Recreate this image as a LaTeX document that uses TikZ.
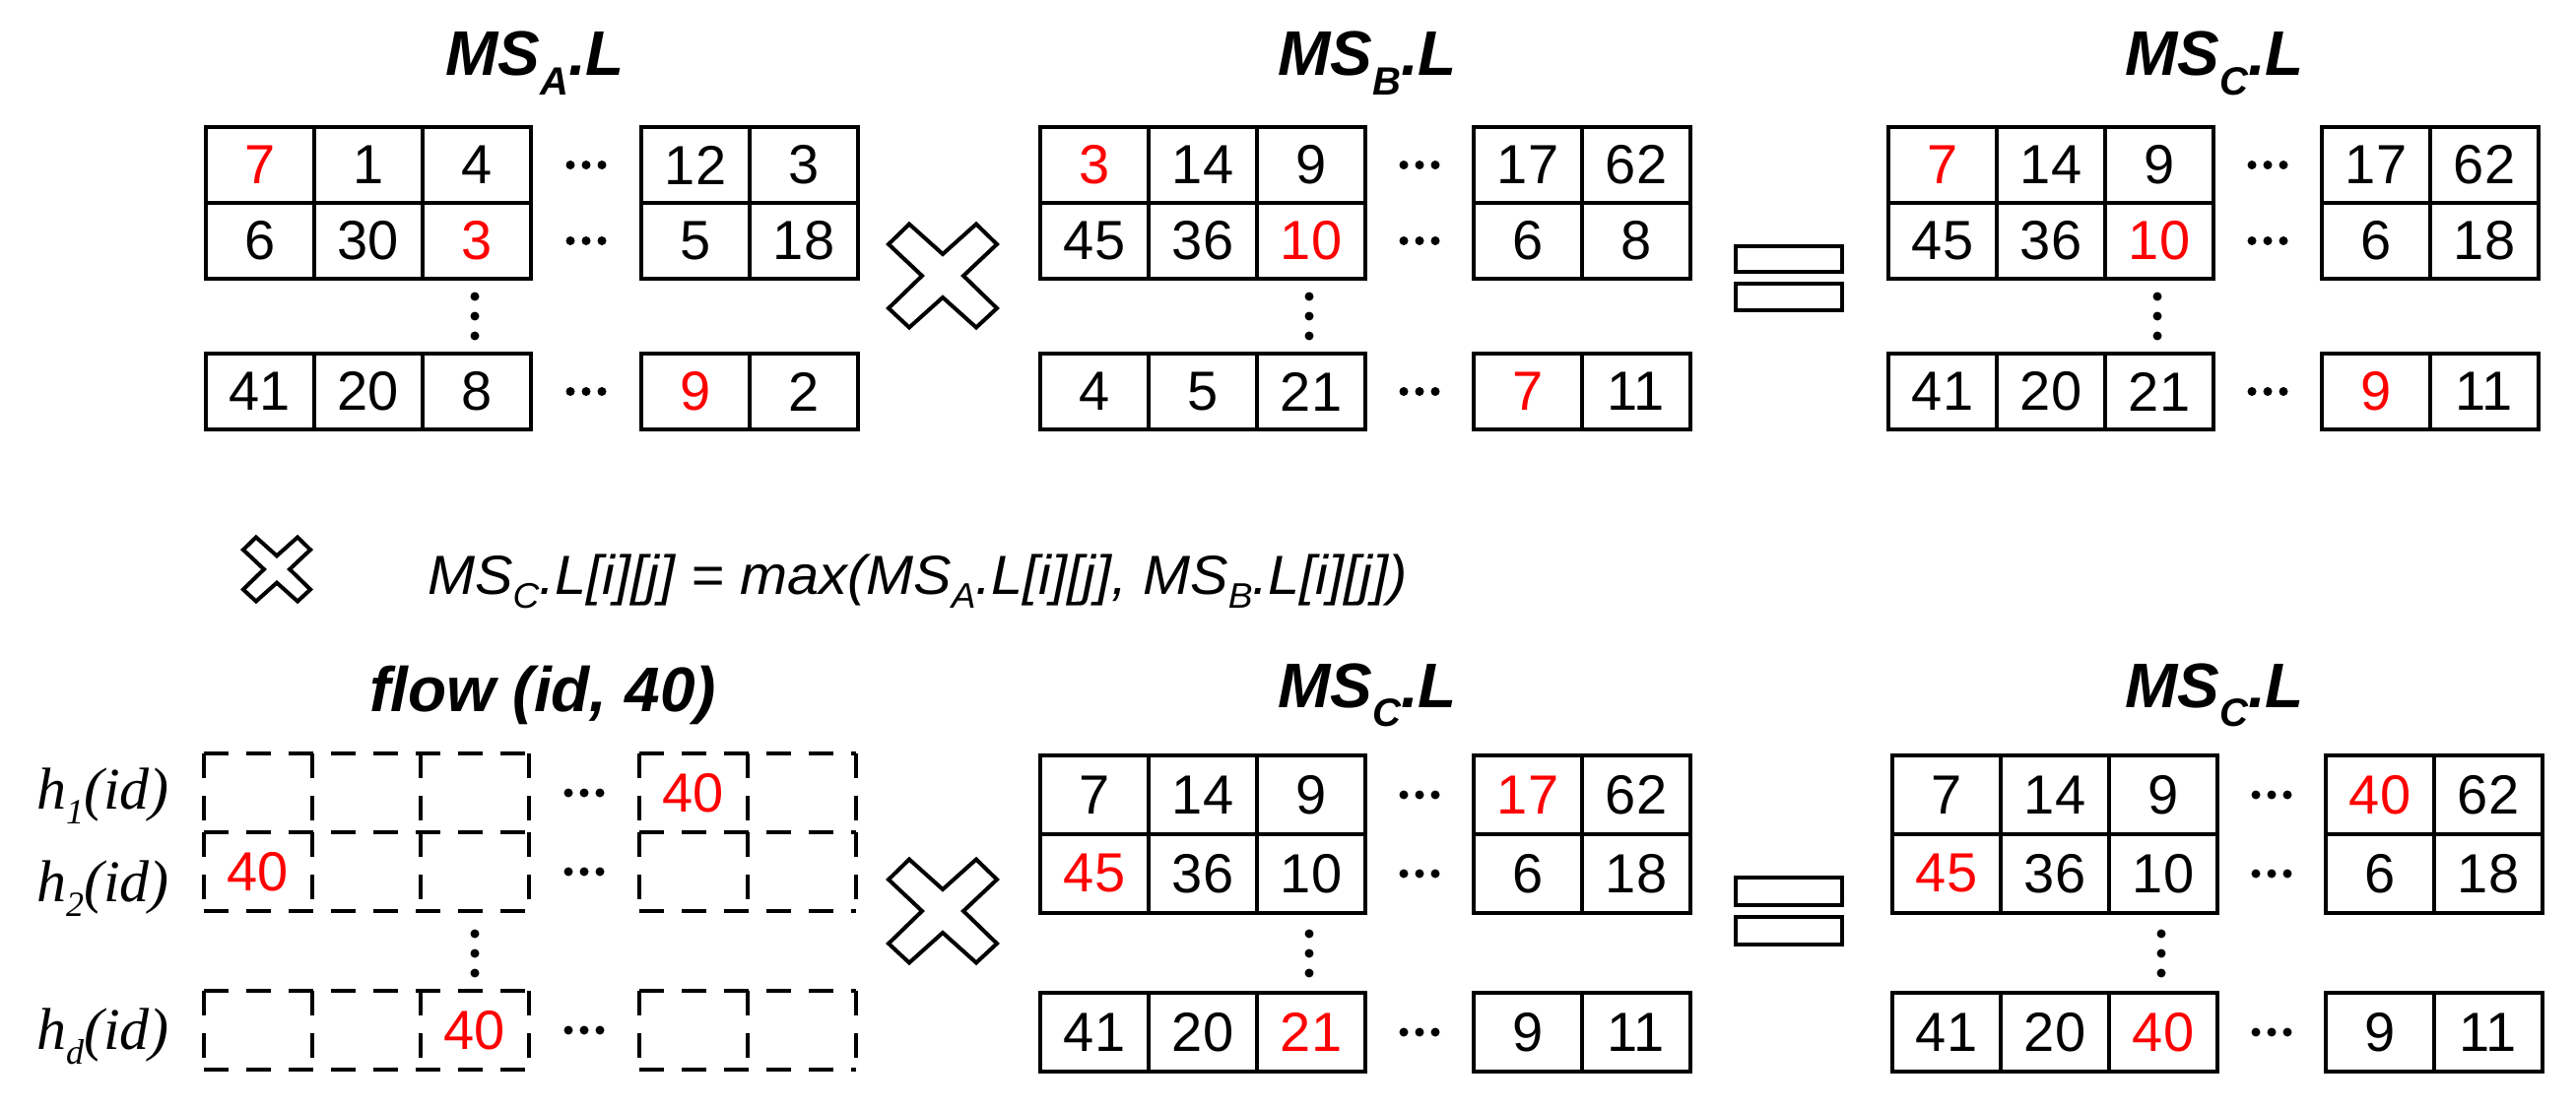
\documentclass[tikz,border=0pt]{standalone}
\usepackage{fontspec}
\setmainfont{Liberation Sans}
\newfontfamily\serif{Liberation Serif}
\usetikzlibrary{calc}
\begin{document}
\begin{tikzpicture}[x=1pt,y=-1pt,
  cell/.style={draw=black,line width=4pt,minimum width=110pt,anchor=north west,inner sep=0pt,font=\fontsize{56}{56}\selectfont},
  dcell/.style={cell,draw=none,outer sep=0pt},
  dl/.style={line width=4pt,dash pattern=on 25pt off 18pt},
  ttl/.style={font=\fontsize{64}{64}\selectfont\bfseries\itshape,anchor=base},
  dots/.style={inner sep=0pt,minimum size=1pt},
  xshape/.style={draw=black,line width=4pt,line join=miter,fill=white}]
\useasboundingbox (0,0) rectangle (2615,1126);
\newcommand{\rd}[1]{\textcolor{red}{#1}}
\newcommand{\crow}[9]{%
  \node[#6,minimum height=#5] (#1-1) at (#2,#4) {#7};
  \node[#6,minimum height=#5] (#1-2) at (#2+110,#4) {#8};
  \node[#6,minimum height=#5] (#1-3) at (#2+220,#4) {#9};
  \def\xtwo{#3}\def\yy{#4}\def\hh{#5}\def\sty{#6}\def\nm{#1}\crowb}
\newcommand{\crowb}[2]{%
  \node[\sty,minimum height=\hh] (\nm-4) at (\xtwo,\yy) {#1};
  \node[\sty,minimum height=\hh] (\nm-5) at (\xtwo+110,\yy) {#2};
  \node[dots] (\nm-d) at ($(\nm-3.east)!0.5!(\nm-4.west)$) {};
  \foreach \dx in {-16,0,16} \fill ($(\nm-d)+(\dx,0)$) circle (4.5);}
\newcommand{\vdts}[3]{\node[dots] (#1) at (#2,#3) {};
  \foreach \dy in {-20,0,20} \fill ($(#1)+(0,\dy)$) circle (4.5);}
\newcommand{\drow}[1]{%
  \foreach \a/\b in {1/3,4/5}{
    \draw[dl] (#1-\a.north west) -- (#1-\b.north east);
    \draw[dl] (#1-\a.south west) -- (#1-\b.south east);}
  \foreach \c in {1,2,3,4,5} \draw[dl] (#1-\c.north west) -- (#1-\c.south west);
  \draw[dl] (#1-3.north east) -- (#1-3.south east);
  \draw[dl] (#1-5.north east) -- (#1-5.south east);}
\newcommand{\bigx}[3]{%
  \draw[xshape,shift={(#1,#2)},scale=#3] (-34,-52.5) -- (0,-22) -- (34,-52.5) -- (55,-32) -- (21,0) -- (55,33) -- (34,52.5) -- (0,22) -- (-34,52.5) -- (-55,33) -- (-21,0) -- (-55,-32) -- cycle;}
\newcommand{\sub}[1]{\raisebox{-0.3em}{\fontsize{40}{40}\selectfont #1}}
% ---------- top ----------
\node[ttl] (tA) at (543,77) {MS\sub{A}.L};
\node[ttl] (tB) at (1388,77) {MS\sub{B}.L};
\node[ttl] (tC) at (2248,77) {MS\sub{C}.L};
\crow{A1}{207}{649}{127}{77pt}{cell}{\rd{7}}{1}{4}{12}{3}
\crow{A2}{207}{649}{204}{77pt}{cell}{6}{30}{\rd{3}}{5}{18}
\crow{A3}{207}{649}{357}{77pt}{cell}{41}{20}{8}{\rd{9}}{2}
\crow{B1}{1054}{1494}{127}{77pt}{cell}{\rd{3}}{14}{9}{17}{62}
\crow{B2}{1054}{1494}{204}{77pt}{cell}{45}{36}{\rd{10}}{6}{8}
\crow{B3}{1054}{1494}{357}{77pt}{cell}{4}{5}{21}{\rd{7}}{11}
\crow{C1}{1915}{2355}{127}{77pt}{cell}{\rd{7}}{14}{9}{17}{62}
\crow{C2}{1915}{2355}{204}{77pt}{cell}{45}{36}{\rd{10}}{6}{18}
\crow{C3}{1915}{2355}{357}{77pt}{cell}{41}{20}{21}{\rd{9}}{11}
\vdts{vA}{482}{321}
\vdts{vB}{1329}{321}
\vdts{vC}{2190}{321}
\bigx{957}{280}{1}
\draw[line width=4pt] (1762,250) rectangle (1870,276) (1762,288) rectangle (1870,315);
% ---------- formula ----------
\bigx{281}{578}{0.62}
\node[anchor=base west,font=\fontsize{56}{56}\selectfont\itshape,inner sep=0pt] (f) at (434,603)
 {\scalebox{1.03}[1]{MS\raisebox{-0.25em}{\fontsize{36}{36}\selectfont C}.L[i][j] = max(MS\raisebox{-0.25em}{\fontsize{36}{36}\selectfont A}.L[i][j], MS\raisebox{-0.25em}{\fontsize{36}{36}\selectfont B}.L[i][j])}};
% ---------- bottom ----------
\node[ttl] (tF) at (551,722) {flow (id, 40)};
\node[ttl] (tC2) at (1388,718) {MS\sub{C}.L};
\node[ttl] (tC3) at (2248,718) {MS\sub{C}.L};
\crow{F1}{207}{649}{765}{80pt}{dcell}{}{}{}{\rd{40}}{}
\crow{F2}{207}{649}{845}{80pt}{dcell}{\rd{40}}{}{}{}{}
\crow{F3}{207}{649}{1006}{80pt}{dcell}{}{}{\rd{40}}{}{}
\drow{F1}\drow{F2}\drow{F3}
\crow{D1}{1054}{1494}{765}{80pt}{cell}{7}{14}{9}{\rd{17}}{62}
\crow{D2}{1054}{1494}{845}{80pt}{cell}{\rd{45}}{36}{10}{6}{18}
\crow{D3}{1054}{1494}{1006}{80pt}{cell}{41}{20}{\rd{21}}{9}{11}
\crow{E1}{1919}{2359}{765}{80pt}{cell}{7}{14}{9}{\rd{40}}{62}
\crow{E2}{1919}{2359}{845}{80pt}{cell}{\rd{45}}{36}{10}{6}{18}
\crow{E3}{1919}{2359}{1006}{80pt}{cell}{41}{20}{\rd{40}}{9}{11}
\vdts{vF}{482}{968}
\vdts{vD}{1329}{968}
\vdts{vE}{2194}{968}
\bigx{957}{925}{1}
\draw[line width=4pt] (1762,891) rectangle (1870,919) (1762,931) rectangle (1870,959);
\tikzset{hl/.style={anchor=base east,font=\fontsize{60}{60}\selectfont\serif\itshape,inner sep=0pt}}
\node[hl] (h1) at (172,821) {h\raisebox{-0.25em}{\fontsize{36}{36}\selectfont 1}(id)};
\node[hl] (h2) at (172,915) {h\raisebox{-0.25em}{\fontsize{36}{36}\selectfont 2}(id)};
\node[hl] (hd) at (172,1065) {h\raisebox{-0.25em}{\fontsize{36}{36}\selectfont d}(id)};
\end{tikzpicture}
\end{document}
